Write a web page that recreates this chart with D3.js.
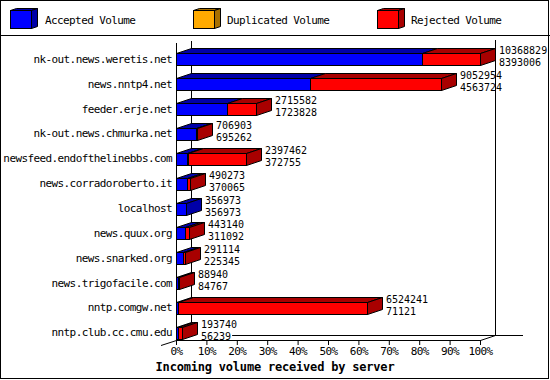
<!DOCTYPE html>
<html>
<head>
<meta charset="utf-8">
<script src="https://cdn.jsdelivr.net/npm/d3@7"></script>
<style>
  body { margin: 0; background: #fff; }
  svg text { font-family: "DejaVu Sans Mono", monospace; font-size: 11px; letter-spacing: -0.6px; fill: #000; }
  svg text.num { font-size: 10px; letter-spacing: 0; }
</style>
</head>
<body>
<svg id="chart" width="550" height="380"></svg>
<script>
const hosts = [
  "nk-out.news.weretis.net", "news.nntp4.net", "feeder.erje.net",
  "nk-out.news.chmurka.net", "newsfeed.endofthelinebbs.com",
  "news.corradoroberto.it", "localhost", "news.quux.org",
  "news.snarked.org", "news.trigofacile.com", "nntp.comgw.net",
  "nntp.club.cc.cmu.edu"
];
const totalVolume = [10368829, 9052954, 2715582, 706903, 2397462, 490273, 356973, 443140, 291114, 88940, 6524241, 193740];
const acceptedVolume = [8393006, 4563724, 1723828, 695262, 372755, 370065, 356973, 311092, 225345, 84767, 71121, 56239];
const duplicatedVolume = [0, 0, 0, 0, 45000, 0, 0, 0, 0, 0, 0, 0];
const rejectedVolume = [1975823, 4489230, 991754, 11641, 1979707, 120208, 0, 132048, 65769, 4173, 6453120, 137501];
const seriesNames = ["Accepted Volume", "Duplicated Volume", "Rejected Volume"];
const pctTicks = [0, 10, 20, 30, 40, 50, 60, 70, 80, 90, 100];

const colors = [
  { front: "#0000ff", dark: "#0000a8" },
  { front: "#ffaa00", dark: "#a87000" },
  { front: "#ff0000", dark: "#a80000" }
];

const svg = d3.select("#chart");
const W = 550, H = 380;
const depth = { dx: 15, dy: 5 };
const px = v => Math.round(v) + 0.5;

// frame + legend separator
svg.append("rect").attr("x", 0.5).attr("y", 0.5).attr("width", W - 2).attr("height", H - 2)
  .attr("fill", "#fff").attr("stroke", "#000");
svg.append("line").attr("x1", 0).attr("x2", W).attr("y1", 35.5).attr("y2", 35.5).attr("stroke", "#000");

// legend
const legendX = [10, 193, 377];
seriesNames.forEach((name, i) => {
  const g = svg.append("g").attr("transform", `translate(${legendX[i]},10)`);
  g.append("polygon").attr("points", "0.5,0.5 6.5,-1.5 27.5,-1.5 21.5,0.5")
    .attr("fill", colors[i].dark).attr("stroke", "#000");
  g.append("polygon").attr("points", "21.5,0.5 27.5,-1.5 27.5,16.5 21.5,18.5")
    .attr("fill", colors[i].dark).attr("stroke", "#000");
  g.append("rect").attr("x", 0.5).attr("y", 0.5).attr("width", 21).attr("height", 18)
    .attr("fill", colors[i].front).attr("stroke", "#000");
  g.append("text").attr("x", legendX[i] === 10 ? 35 : 34).attr("y", 10)
    .attr("dominant-baseline", "central").text(name);
});

// scales
const x = d3.scaleLinear().domain([0, d3.max(totalVolume)]).range([176, 480]);
const pct = d3.scaleLinear().domain([0, 100]).range([176, 480]);
const y = d3.scaleBand().domain(hosts).range([47, 345.2]);

// back walls
const axisTop = 43, floorY = 340;
svg.append("line").attr("x1", 191.5).attr("x2", 191.5).attr("y1", axisTop - 2).attr("y2", floorY - depth.dy)
  .attr("stroke", "#000");
svg.append("line").attr("x1", 495.5).attr("x2", 495.5).attr("y1", axisTop - 3).attr("y2", floorY - depth.dy + 0.5)
  .attr("stroke", "#000");
const floorBack = svg.append("line").attr("y1", floorY - depth.dy + 0.5).attr("y2", floorY - depth.dy + 0.5)
  .attr("x2", 523).attr("stroke", "#000");
svg.append("line").attr("x1", 480.5).attr("y1", floorY + 0.5).attr("x2", 495.5).attr("y2", floorY - depth.dy + 0.5)
  .attr("stroke", "#000");
svg.append("line").attr("x1", 161).attr("y1", floorY + 5.5).attr("x2", 176.5).attr("y2", floorY + 0.5)
  .attr("stroke", "#000");

// x axis (front floor edge)
const xAxis = svg.append("g").attr("transform", `translate(0,${floorY})`)
  .call(d3.axisBottom(pct).tickValues(pctTicks).tickFormat(d => d + "%").tickSize(5).tickSizeOuter(0));
xAxis.selectAll("text").attr("font-family", null).attr("font-size", null).attr("y", 7);
xAxis.selectAll("path,line").attr("stroke", "#000");

// y axis front line
svg.append("line").attr("x1", 176.5).attr("x2", 176.5).attr("y1", axisTop).attr("y2", floorY + 0.5)
  .attr("stroke", "#000");

// host labels
svg.append("g").selectAll("text").data(hosts).join("text")
  .attr("x", 172).attr("y", d => y(d) + y.bandwidth() / 2)
  .attr("text-anchor", "end").attr("dominant-baseline", "central")
  .text(d => d);

// 3D stacked bars
const rows = hosts.map((h, i) => ({
  host: h,
  parts: [acceptedVolume[i], duplicatedVolume[i], rejectedVolume[i]],
  total: totalVolume[i],
  accepted: acceptedVolume[i]
}));

const barH = 12;
let lastLabelEnd = 191;
rows.forEach((r, ri) => {
  const yf = Math.round(y(r.host) + y.bandwidth() / 2 - barH / 2) + 0.5;
  const g = svg.append("g");
  let acc = 0, lastSeg = 0;
  const segs = r.parts.map((v, si) => {
    const s = { si, x0: px(x(acc)), x1: px(x(acc + v)), v };
    acc += v;
    if (v > 0) lastSeg = si;
    return s;
  }).filter(s => s.v > 0);
  segs.forEach(s => {
    g.append("polygon")
      .attr("points", [[s.x0, yf], [s.x0 + depth.dx, yf - depth.dy], [s.x1 + depth.dx, yf - depth.dy], [s.x1, yf]].join(" "))
      .attr("fill", colors[s.si].dark).attr("stroke", "#000");
  });
  segs.forEach(s => {
    g.append("rect").attr("x", s.x0).attr("y", yf).attr("width", Math.max(0, s.x1 - s.x0)).attr("height", barH)
      .attr("fill", colors[s.si].front).attr("stroke", "#000");
  });
  const xe = px(x(r.total));
  g.append("polygon")
    .attr("points", [[xe, yf], [xe + depth.dx, yf - depth.dy], [xe + depth.dx, yf + barH - depth.dy], [xe, yf + barH]].join(" "))
    .attr("fill", colors[lastSeg].dark).attr("stroke", "#000");

  const tx = xe + depth.dx + 3.5;
  const cy = yf + barH / 2;
  g.append("text").attr("class", "num").attr("x", tx).attr("y", cy - 9)
    .attr("dominant-baseline", "central").text(r.total);
  const t2 = g.append("text").attr("class", "num").attr("x", tx).attr("y", cy + 3)
    .attr("dominant-baseline", "central").text(r.accepted);
  if (ri === rows.length - 1) lastLabelEnd = tx + t2.node().getComputedTextLength() + 1;
});
floorBack.attr("x1", lastLabelEnd);

// axis title
svg.append("text").attr("x", W / 2).attr("y", 367).attr("text-anchor", "middle")
  .attr("dominant-baseline", "central")
  .style("font-weight", "bold").style("font-size", "12px").style("letter-spacing", "-0.2px")
  .text("Incoming volume received by server");
</script>
</body>
</html>
